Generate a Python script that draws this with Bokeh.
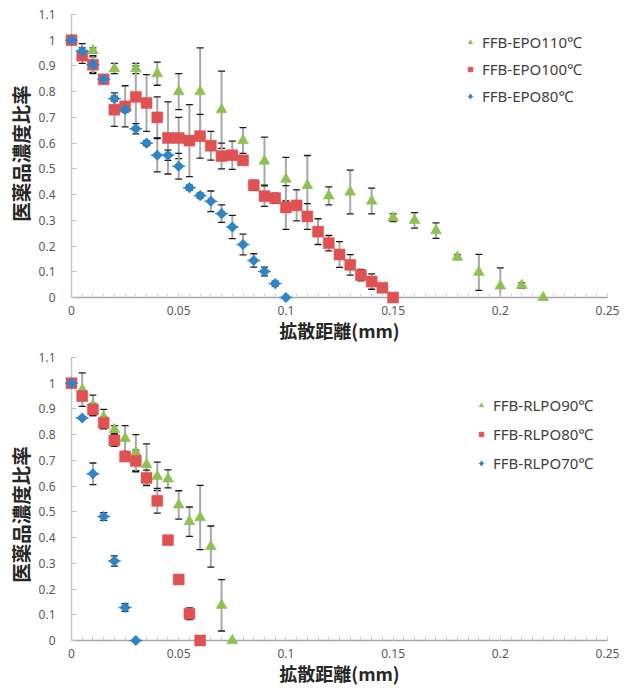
import math
from bokeh.plotting import figure
from bokeh.models import (ColumnDataSource, Whisker, TeeHead, FixedTicker, Legend,
                          LegendItem, Range1d)
from bokeh.core.properties import value
from bokeh.layouts import column
from bokeh.embed import file_html
from bokeh.resources import INLINE

# ---------------- data : top chart (FFB-EPO) ----------------
x_epo110 = [0, 0.01, 0.02, 0.03, 0.04, 0.05, 0.06, 0.07, 0.08, 0.09, 0.10, 0.11,
            0.12, 0.13, 0.14, 0.15, 0.16, 0.17, 0.18, 0.19, 0.20, 0.21, 0.22]
y_epo110 = [1.0, 0.96, 0.89, 0.89, 0.87, 0.80, 0.80, 0.73, 0.61, 0.53, 0.46, 0.435,
            0.395, 0.41, 0.375, 0.31, 0.30, 0.26, 0.157, 0.098, 0.045, 0.047, 0.0]
e_epo110 = [0, 0.01, 0.02, 0.02, 0.045, 0.07, 0.17, 0.15, 0.05, 0.093, 0.085, 0.117,
            0.035, 0.085, 0.05, 0.015, 0.03, 0.03, 0.01, 0.07, 0.07, 0.01, 0]

x_epo100 = [0, 0.005, 0.01, 0.015, 0.02, 0.025, 0.03, 0.035, 0.04, 0.045, 0.05, 0.055,
            0.06, 0.065, 0.07, 0.075, 0.08, 0.085, 0.09, 0.095, 0.10, 0.105, 0.11,
            0.115, 0.12, 0.125, 0.13, 0.135, 0.14, 0.145, 0.15]
y_epo100 = [1.0, 0.94, 0.905, 0.848, 0.73, 0.743, 0.78, 0.756, 0.70, 0.62, 0.62, 0.61,
            0.627, 0.59, 0.55, 0.553, 0.533, 0.436, 0.394, 0.386, 0.35, 0.358, 0.315,
            0.256, 0.211, 0.167, 0.127, 0.087, 0.062, 0.038, 0.0]
e_epo100 = [0, 0.03, 0.03, 0.01, 0.065, 0.08, 0.12, 0.11, 0.08, 0.14, 0.08, 0.14,
            0.085, 0.056, 0.05, 0.055, 0.01, 0.02, 0.04, 0.02, 0.085, 0.06, 0.05,
            0.05, 0.03, 0.05, 0.04, 0.022, 0.03, 0.0, 0.0]

x_epo80 = [0, 0.005, 0.01, 0.015, 0.02, 0.025, 0.03, 0.035, 0.04, 0.045, 0.05, 0.055,
           0.06, 0.065, 0.07, 0.075, 0.08, 0.085, 0.09, 0.095, 0.10]
y_epo80 = [1.0, 0.957, 0.905, 0.848, 0.773, 0.73, 0.656, 0.60, 0.553, 0.553, 0.51, 0.427,
           0.396, 0.374, 0.326, 0.274, 0.206, 0.144, 0.101, 0.054, 0.0]
e_epo80 = [0, 0.03, 0.035, 0.01, 0.01, 0.01, 0.02, 0.01, 0.065, 0.02, 0.05, 0.01,
           0.01, 0.04, 0.034, 0.045, 0.04, 0.026, 0.017, 0.01, 0]

# ---------------- data : bottom chart (FFB-RLPO) ----------------
x_rlpo90 = [0, 0.005, 0.01, 0.015, 0.02, 0.025, 0.03, 0.035, 0.04, 0.045, 0.05, 0.055,
            0.06, 0.065, 0.07, 0.075]
y_rlpo90 = [1.0, 0.975, 0.914, 0.868, 0.82, 0.785, 0.73, 0.684, 0.638, 0.628, 0.527, 0.462,
            0.478, 0.365, 0.137, 0.0]
e_rlpo90 = [0, 0.065, 0.04, 0.03, 0.015, 0.05, 0.07, 0.08, 0.055, 0.035, 0.055, 0.057,
            0.125, 0.08, 0.1, 0]

x_rlpo80 = [0, 0.005, 0.01, 0.015, 0.02, 0.025, 0.03, 0.035, 0.04, 0.045, 0.05, 0.055, 0.06]
y_rlpo80 = [1.0, 0.95, 0.898, 0.846, 0.778, 0.715, 0.698, 0.632, 0.543, 0.39, 0.237, 0.104, 0.0]
e_rlpo80 = [0, 0.01, 0.024, 0.023, 0.023, 0.01, 0.042, 0.03, 0.048, 0.015, 0.015, 0.023, 0]

x_rlpo70 = [0, 0.005, 0.01, 0.015, 0.02, 0.025, 0.03]
y_rlpo70 = [1.0, 0.865, 0.648, 0.482, 0.309, 0.128, 0.0]
e_rlpo70 = [0, 0.005, 0.042, 0.015, 0.02, 0.015, 0]

# ---------------- ticks / labels ----------------
x_ticks = [0, 0.05, 0.1, 0.15, 0.2, 0.25]
x_tick_labels = ["0", "0.05", "0.1", "0.15", "0.2", "0.25"]
y_ticks = [0, 0.1, 0.2, 0.3, 0.4, 0.5, 0.6, 0.7, 0.8, 0.9, 1.0, 1.1]
y_tick_labels = ["0", "0.1", "0.2", "0.3", "0.4", "0.5", "0.6", "0.7", "0.8", "0.9", "1", "1.1"]
x_label = "拡散距離(mm)"
y_label = "医薬品濃度比率"

GREEN = "#8DC152"
RED = "#E05252"
BLUE = "#2E84C6"
CJK = "Noto Sans CJK JP"


def make_chart(series, b_top, b_bottom, leg_loc, leg_label_h, leg_spacing, ylab_pos):
    p = figure(width=620, height=344, output_backend="svg", toolbar_location=None,
               x_range=Range1d(0, 0.25), y_range=Range1d(0, 1.1),
               min_border_left=71, min_border_right=13,
               min_border_top=b_top, min_border_bottom=b_bottom)
    p.outline_line_color = None
    p.xgrid.visible = False
    p.ygrid.visible = False

    # x axis
    xa = p.xaxis[0]
    xa.ticker = FixedTicker(ticks=x_ticks, minor_ticks=[i * 0.005 for i in range(51)])
    xa.major_label_overrides = dict(zip(x_ticks, x_tick_labels))
    xa.axis_line_color = "#A6A6A6"
    xa.axis_line_width = 1.5
    xa.major_tick_in = 4
    xa.major_tick_out = 0
    xa.minor_tick_in = 4
    xa.minor_tick_out = 0
    xa.major_tick_line_color = "#D0D0D0"
    xa.minor_tick_line_color = "#D0D0D0"
    xa.major_label_text_font = "Noto Sans"
    xa.major_label_text_font_size = "12px"
    xa.major_label_text_color = "#595959"
    xa.major_label_standoff = 8

    # y axis
    ya = p.yaxis[0]
    ya.ticker = FixedTicker(ticks=y_ticks, minor_ticks=[])
    ya.major_label_overrides = dict(zip(y_ticks, y_tick_labels))
    ya.axis_line_color = "#C8C8C8"
    ya.axis_line_width = 1.5
    ya.major_tick_in = 5
    ya.major_tick_out = 0
    ya.major_tick_line_color = "#BFBFBF"
    ya.minor_tick_line_color = None
    ya.major_label_text_font = "Noto Sans"
    ya.major_label_text_font_size = "12px"
    ya.major_label_text_color = "#595959"
    ya.major_label_standoff = 16

    # axis titles drawn as unclipped text glyphs, kept out of the layout
    p.text(x=[0.125], y=[-0.128], text=[x_label], text_font=value(CJK),
           text_font_style="bold", text_font_size="18px", text_color="#262626",
           text_align="center", text_baseline="middle", level="overlay")
    p.text(x=[-0.024], y=[ylab_pos], text=[y_label], text_font=value(CJK),
           text_font_style="bold", text_font_size="19.5px", text_color="#262626",
           text_align="center", text_baseline="middle", angle=math.pi / 2,
           level="overlay")

    # error bars
    for (xs, ys, es, color, marker, size, label) in series:
        bx = [x for x, e in zip(xs, es) if e > 0]
        lo = [y - e for y, e in zip(ys, es) if e > 0]
        hi = [y + e for y, e in zip(ys, es) if e > 0]
        src = ColumnDataSource(dict(x=bx, lo=lo, hi=hi))
        w = Whisker(source=src, base="x", lower="lo", upper="hi", dimension="height",
                    line_color="#A8A8A8", line_width=2,
                    upper_head=TeeHead(size=7, line_color="#1a1a1a", line_width=1.3),
                    lower_head=TeeHead(size=7, line_color="#1a1a1a", line_width=1.3))
        p.add_layout(w)

    items = []
    for (xs, ys, es, color, marker, size, label) in series:
        src = ColumnDataSource(dict(x=xs, y=ys))
        if marker == "diamond":
            r_dash = p.scatter("x", "y", source=src, marker="dash", size=13,
                               line_color=color, line_width=1.3, level="overlay")
            p.scatter("x", "y", source=src, marker="square", size=7.5,
                      angle=math.pi / 4, fill_color=color, line_color=color,
                      line_width=0.5, level="overlay")
            # renderer with no drawable point, used only for the legend swatch
            r_leg = p.scatter(x=[float("nan")], y=[float("nan")], marker="diamond",
                              size=11, fill_color=color, line_color=color)
            rs = [r_dash, r_leg]
        else:
            rs = [p.scatter("x", "y", source=src, marker=marker, size=size,
                            fill_color=color, line_color=color, line_width=0.5,
                            level="overlay")]
        items.append(LegendItem(label=label, renderers=rs))

    legend = Legend(items=items, location=leg_loc, border_line_color=None,
                    background_fill_alpha=0, label_text_font="Noto Sans",
                    label_text_font_size="15px", label_text_color="#404040",
                    glyph_width=12, glyph_height=leg_label_h, label_height=leg_label_h,
                    label_standoff=6, spacing=leg_spacing, padding=0, margin=0)
    p.add_layout(legend)
    return p


top_series = [
    (x_epo110, y_epo110, e_epo110, GREEN, "triangle", 11, "FFB-EPO110℃"),
    (x_epo100, y_epo100, e_epo100, RED, "square", 11, "FFB-EPO100℃"),
    (x_epo80, y_epo80, e_epo80, BLUE, "diamond", 12, "FFB-EPO80℃"),
]
bottom_series = [
    (x_rlpo90, y_rlpo90, e_rlpo90, GREEN, "triangle", 11, "FFB-RLPO90℃"),
    (x_rlpo80, y_rlpo80, e_rlpo80, RED, "square", 11, "FFB-RLPO80℃"),
    (x_rlpo70, y_rlpo70, e_rlpo70, BLUE, "diamond", 12, "FFB-RLPO70℃"),
]

p1 = make_chart(top_series, 14, 47, (393, 191), 20, 7, 0.56)
p2 = make_chart(bottom_series, 13, 48, (404, 166), 22, 7, 0.49)

layout = column(p1, p2, spacing=0)
open("out.html", "w").write(file_html(layout, INLINE))
